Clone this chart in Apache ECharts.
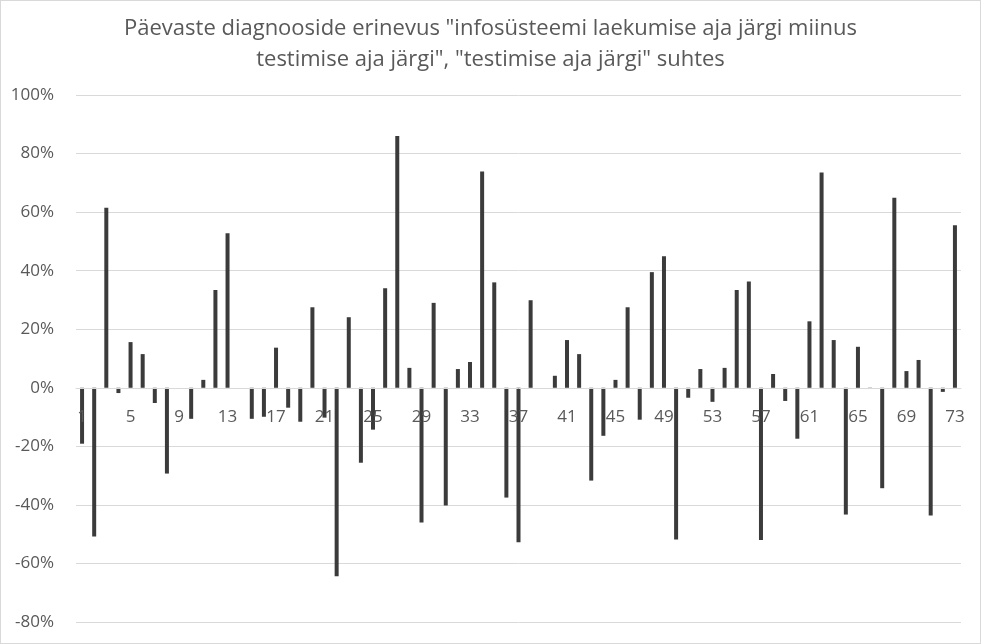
<!DOCTYPE html>
<html><head><meta charset="utf-8">
<script src="https://cdn.jsdelivr.net/npm/echarts@6/dist/echarts.min.js"></script>
<style>html,body{margin:0;padding:0;background:#fff}#c{width:979px;height:642px;border:1px solid #d9d9d9}</style>
</head><body><div id="c"></div>
<script>
const titleText = 'Päevaste diagnooside erinevus "infosüsteemi laekumise aja järgi miinus\ntestimise aja järgi", "testimise aja järgi" suhtes';
const categories = [];
for (let i = 1; i <= 73; i++) categories.push(String(i));
const values = [
  -19.1, -50.8, 61.5, -1.8, 15.6, 11.5, -5.2, -29.3, 0, -10.6,
  2.7, 33.4, 52.8, 0, -10.6, -9.9, 13.7, -6.8, -11.6, 27.5,
  -10.2, -64.4, 24.1, -25.6, -14.3, 34.0, 86.0, 6.8, -46.0, 29.0,
  -40.2, 6.4, 8.8, 73.9, 36.0, -37.5, -52.8, 29.9, 0, 4.1,
  16.3, 11.5, -31.7, -16.4, 2.7, 27.5, -10.9, 39.5, 44.9, -51.8,
  -3.4, 6.4, -4.8, 6.8, 33.4, 36.3, -52.0, 4.7, -4.5, -17.4,
  22.7, 73.5, 16.3, -43.3, 14.0, -0.4, -34.3, 64.9, 5.7, 9.5,
  -43.6, -1.4, 55.5
];
const yMin = -80, yMax = 100, yStep = 20;
const gridTop = 94, gridBottom = 21, chartH = 642;
const plotH = chartH - gridTop - gridBottom;
const zeroOffset = -plotH * (0 - yMin) / (yMax - yMin);
const chart = echarts.init(document.getElementById('c'));
chart.setOption({
  animation: false,
  title: {
    text: titleText, left: 'center', top: 7,
    textStyle: { fontFamily: 'Open Sans', fontSize: 22, fontWeight: 'normal', color: '#595959', lineHeight: 31 }
  },
  grid: { left: 75, right: 19, top: gridTop, bottom: gridBottom },
  xAxis: {
    type: 'category', data: categories,
    offset: zeroOffset, zlevel: 1,
    axisLine: { onZero: false, lineStyle: { color: '#d9d9d9' } },
    axisTick: { show: false },
    axisLabel: { interval: 3, color: '#595959', fontFamily: 'Open Sans', fontSize: 17, margin: 21 }
  },
  yAxis: {
    type: 'value', min: yMin, max: yMax, interval: yStep,
    axisLine: { show: false }, axisTick: { show: false },
    splitLine: { lineStyle: { color: '#d9d9d9' } },
    axisLabel: { formatter: v => v + '%', color: '#595959', fontFamily: 'Open Sans', fontSize: 17, margin: 22 }
  },
  series: [{
    type: 'bar', data: values, barWidth: 4,
    itemStyle: { color: '#3b3b3b' }
  }]
});
</script></body></html>
